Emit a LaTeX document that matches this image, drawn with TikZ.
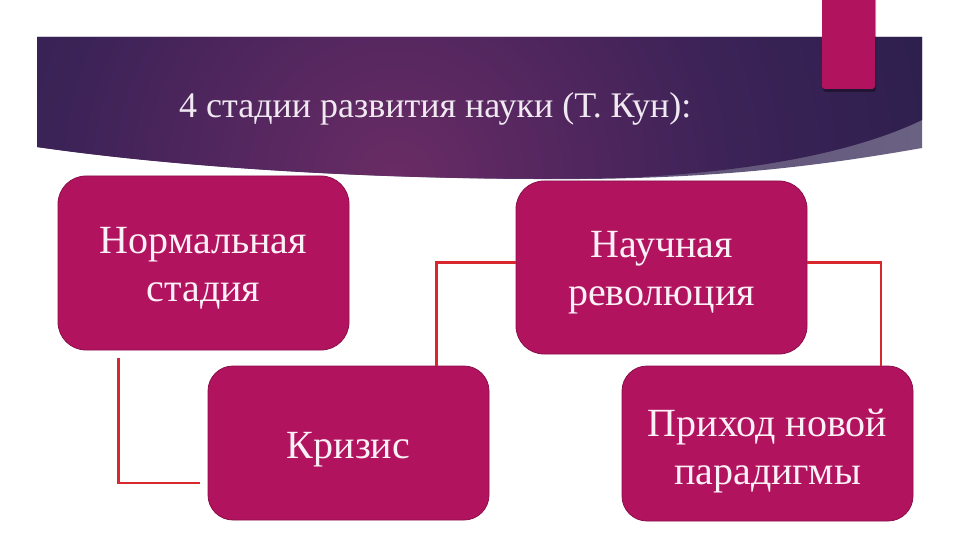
\documentclass[tikz,border=0pt]{standalone}
\usepackage{fontspec}
\setmainfont{Liberation Serif}
\definecolor{boxfill}{HTML}{B2135F}
\definecolor{boxedge}{HTML}{8A0F4A}
\definecolor{linkred}{HTML}{D8282E}
\definecolor{txt}{HTML}{FBF0F6}
\definecolor{titletxt}{HTML}{F1E9F1}
\definecolor{glowin}{HTML}{6A2C64}
\definecolor{glowmid}{HTML}{562760}
\definecolor{glowdark}{HTML}{3C2357}
\definecolor{glowdeep}{HTML}{2B1F4C}
\definecolor{glowout}{HTML}{241D45}
\definecolor{stripL}{HTML}{4A2C60}
\definecolor{stripR}{HTML}{6A6283}
\pgfdeclareradialshading{banglow}{\pgfpoint{0bp}{0bp}}{color(0bp)=(glowin); color(6bp)=(glowmid); color(14bp)=(glowdark); color(24bp)=(glowdeep); color(50bp)=(glowout)}
\newcommand{\liftline}[1]{\rule{0pt}{#1}}
\tikzset{
  stage/.style={rectangle, rounded corners=28pt, fill=boxfill, draw=boxedge,
    line width=0.8pt, text=txt, align=center,
    font=\fontsize{40}{48}\selectfont, inner sep=0pt, outer sep=0pt},
  link/.style={draw=linkred, line width=2.7pt},
}
\begin{document}
\begin{tikzpicture}[x=1pt,y=-1pt]
\useasboundingbox (0,0) rectangle (960,540);
\fill[white] (0,0) rectangle (960,540);
% banner: light strip underneath
\shade[left color=stripL, right color=stripR]
  (37,37) -- (922,37) -- (922,148)
  .. controls (820,166) and (720,178) .. (580,179)
  .. controls (380,180) and (180,168) .. (37,147) -- cycle;
% banner: dark main part
\begin{scope}
\clip (37,37) -- (922,37) -- (922,120)
  .. controls (860,150) and (760,172) .. (620,178)
  .. controls (420,182) and (200,170) .. (37,147) -- cycle;
\shade[shading=banglow] (395,180) circle (600);
\end{scope}
% pink bar
\fill[black, opacity=0.35, rounded corners=3pt] (823,-5) rectangle (876,92);
\fill[boxfill, rounded corners=3pt] (822,-5) rectangle (875,89);
% title
\node[anchor=base west, font=\fontsize{36}{40}\selectfont, text=titletxt,
  inner sep=0pt] (title) at (179,118) {4 стадии развития науки (Т. Кун):};
% stages
\node[stage, minimum width=291pt, minimum height=174pt] (norm) at (203.5,263) {\liftline{37pt}Нормальная\\стадия};
\node[stage, minimum width=281pt, minimum height=154pt, rounded corners=25pt] (kriz) at (348.5,443) {\liftline{39pt}Кризис};
\node[stage, minimum width=291pt, minimum height=173pt] (rev) at (661.5,267.5) {\liftline{37pt}Научная\\революция};
\node[stage, minimum width=291pt, minimum height=155pt, rounded corners=25pt] (par) at (767.5,443.5) {\liftline{42pt}Приход новой\\парадигмы};
% connectors
\draw[link] ([xshift=-85pt,yshift=-8pt]norm.south) |- ([xshift=-8pt,yshift=-40pt]kriz.west);
\draw[link] ([xshift=88pt]kriz.north) |- ([yshift=5pt]rev.west);
\draw[link] ([yshift=5pt]rev.east) -| ([xshift=113.5pt]par.north);
\end{tikzpicture}
\end{document}
